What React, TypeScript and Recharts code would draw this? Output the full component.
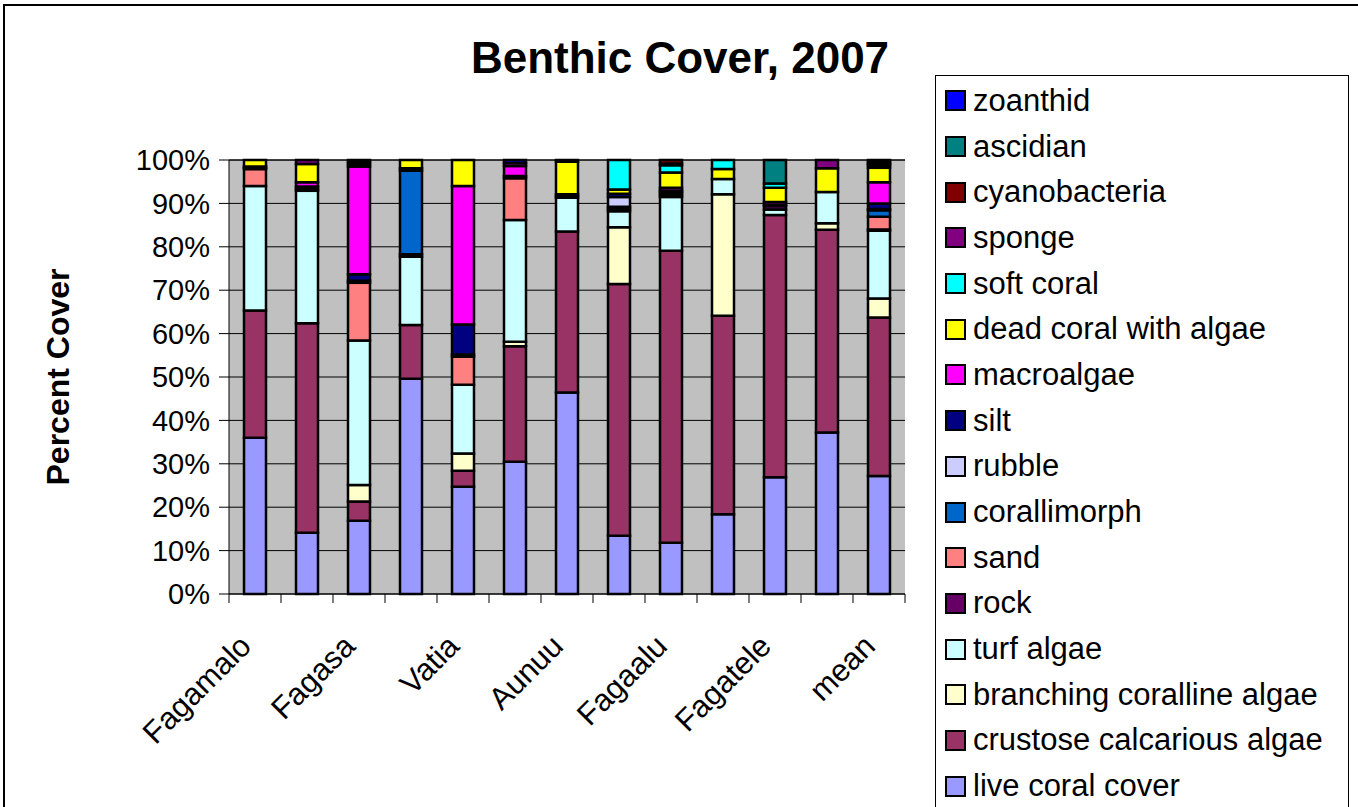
import { BarChart, Bar, XAxis, YAxis, CartesianGrid, Legend, Label } from "recharts";

const FONT = '"Liberation Sans", Arial, sans-serif';

// Survey sites (only every other name is printed on the axis)
const sites = [
  "Fagamalo", "Masausi", "Fagasa", "Afono", "Vatia", "Masefau", "Aunuu",
  "Aoa", "Fagaalu", "Alofau", "Fagatele", "Amanave", "mean",
];

// Benthic categories, bottom of the stack first
const categoryKeys = [
  "live", "cca", "bca", "turf", "rock", "sand", "corallimorph", "rubble",
  "silt", "macro", "dca", "soft", "sponge", "cyano", "ascidian", "zoanthid",
];
const categoryNames = [
  "live coral cover", "crustose calcarious algae", "branching coralline algae",
  "turf algae", "rock", "sand", "corallimorph", "rubble", "silt", "macroalgae",
  "dead coral with algae", "soft coral", "sponge", "cyanobacteria", "ascidian",
  "zoanthid",
];
const categoryColors = [
  "#9999FF", "#993366", "#FFFFCC", "#CCFFFF", "#660066", "#FF8080", "#0066CC",
  "#CCCCFF", "#000080", "#FF00FF", "#FFFF00", "#00FFFF", "#800080", "#800000",
  "#008080", "#0000FF",
];

// Percent cover per site
const liveCoral = [36.0, 14.1, 16.9, 49.6, 24.7, 30.5, 46.4, 13.4, 11.8, 18.4, 26.9, 37.2, 27.2];
const crustose = [29.3, 48.3, 4.4, 12.4, 3.7, 26.6, 37.1, 58.0, 67.3, 45.7, 60.4, 46.7, 36.5];
const branching = [0, 0, 3.8, 0, 4.0, 1.0, 0, 13.1, 0, 28.0, 0, 1.5, 4.4];
const turf = [28.7, 30.5, 33.3, 15.7, 15.8, 28.1, 7.8, 3.7, 12.4, 3.5, 1.3, 7.2, 15.6];
const rock = [0, 0.5, 0, 0, 0, 0, 0.3, 0.5, 0.4, 0, 0.8, 0, 0.3];
const sand = [3.9, 0.5, 13.3, 0.6, 6.5, 9.6, 0.5, 0.5, 0.4, 0, 0, 0, 2.9];
const corallimorph = [0, 0, 0, 19.2, 0, 0, 0, 0, 0, 0, 0, 0, 1.5];
const rubble = [0.3, 0, 0.5, 0.6, 0.5, 0, 0, 2.3, 0.4, 0, 0, 0, 0.3];
const silt = [0.3, 0, 1.5, 0, 6.9, 0.5, 0, 0.7, 0.3, 0, 0.3, 0, 1.3];
const macroalgae = [0, 1.0, 24.8, 0, 31.9, 2.3, 0, 0, 0.6, 0, 0.6, 0, 4.9];
const deadCoral = [1.5, 4.2, 0.6, 1.9, 6.0, 0, 7.5, 1.0, 3.5, 2.3, 3.3, 5.5, 3.3];
const softCoral = [0, 0, 0, 0, 0, 0, 0, 6.8, 1.7, 2.1, 1.0, 0, 0.5];
const sponge = [0, 0.9, 0.5, 0, 0, 0.7, 0.4, 0, 0.4, 0, 0, 1.9, 0.4];
const cyanobacteria = [0, 0, 0.4, 0, 0, 0, 0, 0, 0.8, 0, 0, 0, 0.2];
const ascidian = [0, 0, 0, 0, 0, 0, 0, 0, 0, 0, 5.4, 0, 0.5];
const zoanthid = [0, 0, 0, 0, 0, 0.7, 0, 0, 0, 0, 0, 0, 0.2];

const yTicks = [0, 10, 20, 30, 40, 50, 60, 70, 80, 90, 100];

const seriesValues = [
  liveCoral, crustose, branching, turf, rock, sand, corallimorph, rubble,
  silt, macroalgae, deadCoral, softCoral, sponge, cyanobacteria, ascidian, zoanthid,
];

const data = sites.map((site, i) => {
  const row: Record<string, string | number> = { site };
  categoryKeys.forEach((key, k) => {
    row[key] = seriesValues[k][i];
  });
  return row;
});

const WIDTH = 1358;
const HEIGHT = 807;
const PLOT_LEFT = 229;
const PLOT_RIGHT = 905;
const PLOT_TOP = 160;
const PLOT_BOTTOM = 594;
const BAND = (PLOT_RIGHT - PLOT_LEFT) / sites.length;

function SiteTick(props: any) {
  const { x, y, payload, index } = props;
  const half = BAND / 2;
  return (
    <g>
      <line x1={x - half} x2={x - half} y1={y} y2={y + 9} stroke="#000" />
      {index === sites.length - 1 && (
        <line x1={x + half} x2={x + half} y1={y} y2={y + 9} stroke="#000" />
      )}
      {index % 2 === 0 && (
        <text
          x={x - 2}
          y={y + 54}
          textAnchor="end"
          transform={`rotate(-45 ${x - 2} ${y + 54})`}
          fontFamily={FONT}
          fontSize={31}
          fill="#000"
        >
          {payload.value}
        </text>
      )}
    </g>
  );
}

function LegendBox() {
  const items = categoryKeys.map((key, k) => ({
    key,
    name: categoryNames[k],
    color: categoryColors[k],
  })).reverse();
  return (
    <div
      style={{
        width: 414,
        height: 760,
        boxSizing: "border-box",
        border: "1px solid #000",
        background: "#fff",
        paddingTop: 2,
        fontFamily: FONT,
      }}
    >
      {items.map((item) => (
        <div
          key={item.key}
          style={{ height: 45.7, display: "flex", alignItems: "center", paddingLeft: 9 }}
        >
          <span
            style={{
              width: 17,
              height: 17,
              border: "2px solid #000",
              background: item.color,
              marginRight: 7,
              flex: "none",
            }}
          />
          <span style={{ fontSize: 31, color: "#000", whiteSpace: "nowrap" }}>{item.name}</span>
        </div>
      ))}
    </div>
  );
}

export default function App() {
  return (
    <div style={{ position: "relative", width: WIDTH, height: HEIGHT, overflow: "hidden", background: "#fff" }}>
      <style>{"body{margin:0}"}</style>
      <div
        style={{
          position: "absolute",
          left: 3,
          top: 4,
          width: 1380,
          height: 840,
          border: "2px solid #000",
          boxSizing: "border-box",
        }}
      />
      <div
        style={{
          position: "absolute",
          top: 33,
          left: 380,
          width: 600,
          textAlign: "center",
          fontFamily: FONT,
          fontWeight: "bold",
          fontSize: 44,
          color: "#000",
        }}
      >
        Benthic Cover, 2007
      </div>
      <BarChart
        width={WIDTH}
        height={HEIGHT}
        data={data}
        margin={{ top: PLOT_TOP, right: WIDTH - PLOT_RIGHT, bottom: 0, left: PLOT_LEFT - 100 }}
        style={{ position: "absolute", left: 0, top: 0 }}
      >
        <CartesianGrid vertical={false} stroke="#000" strokeOpacity={1} fill="#C0C0C0" fillOpacity={1} />
        <XAxis
          dataKey="site"
          interval={0}
          tickSize={0}
          tickMargin={0}
          tickLine={false}
          axisLine={{ stroke: "#000" }}
          tick={<SiteTick />}
          height={HEIGHT - PLOT_BOTTOM}
        />
        <YAxis
          width={100}
          domain={[0, 100]}
          ticks={yTicks}
          interval={0}
          tickFormatter={(v: number) => `${v}%`}
          tickSize={10}
          tickMargin={9}
          axisLine={{ stroke: "#000" }}
          tickLine={{ stroke: "#000" }}
          tick={{ fontFamily: FONT, fontSize: 29, fill: "#000" }}
        >
          <Label
            content={() => (
              <text
                x={58}
                y={377}
                textAnchor="middle"
                dominantBaseline="central"
                transform="rotate(-90 58 377)"
                fontFamily={FONT}
                fontWeight="bold"
                fontSize={32}
                fill="#000"
              >
                Percent Cover
              </text>
            )}
          />
        </YAxis>
        <Legend
          layout="vertical"
          align="center"
          verticalAlign="middle"
          content={() => <LegendBox />}
          wrapperStyle={{ left: 935, top: 75, width: 414, height: 760 }}
        />
        {categoryKeys.map((key, k) => (
          <Bar
            key={key}
            dataKey={key}
            name={categoryNames[k]}
            stackId="cover"
            fill={categoryColors[k]}
            stroke="#000"
            strokeWidth={2.5}
            barSize={22}
            isAnimationActive={false}
          />
        ))}
      </BarChart>
    </div>
  );
}
